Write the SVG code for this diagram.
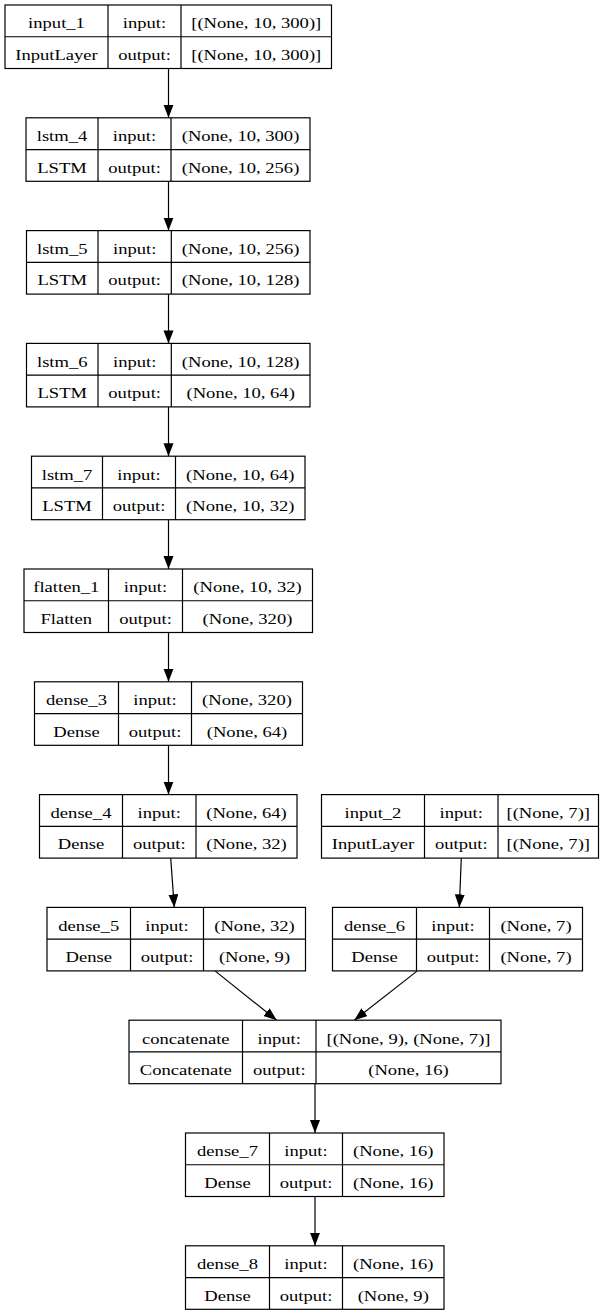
<svg xmlns="http://www.w3.org/2000/svg" width="607" height="1315" viewBox="0 0 607 1315">
<style>
.box{fill:#fff;stroke:#000;stroke-width:1.2}
.ln{fill:none;stroke:#000;stroke-width:1.2}
.t{font-family:"Liberation Serif","Times New Roman",serif;font-size:15px;text-anchor:middle;fill:#000}
.e{fill:none;stroke:#000;stroke-width:1.2;marker-end:url(#ah)}
</style>
<defs>
<marker id="ah" markerUnits="userSpaceOnUse" markerWidth="14" markerHeight="11" refX="13" refY="5" orient="auto">
<path d="M0,0L13,5L0,10z" fill="#000"/>
</marker>
</defs>
<rect width="607" height="1315" fill="#fff"/>
<g id="connectors">
<path class="e" d="M168.5,68.5V117.8"/>
<path class="e" d="M168.5,181.3V230.6"/>
<path class="e" d="M168.5,294.1V343.4"/>
<path class="e" d="M168.5,406.9V456.2"/>
<path class="e" d="M168.5,519.7V569"/>
<path class="e" d="M168.5,632.5V681.8"/>
<path class="e" d="M168.5,745.3V794.6"/>
<path class="e" d="M170.7,858.1L174.3,907.4"/>
<path class="e" d="M461.3,858.1L459.3,907.4"/>
<path class="e" d="M215,970.9L276.7,1020.2"/>
<path class="e" d="M417.3,970.9L354.3,1020.2"/>
<path class="e" d="M315,1083.7V1133"/>
<path class="e" d="M315,1196.5V1245.8"/>
</g>
<g id="input_1">
<rect class="box" x="5" y="5" width="326.5" height="63.5"/>
<path class="ln" d="M108,5V68.5M181,5V68.5M5,36.75H331.5"/>
<text class="t" transform="translate(56.5,28.3) scale(1.24,1)">input_1</text>
<text class="t" transform="translate(56.5,59.8) scale(1.24,1)">InputLayer</text>
<text class="t" transform="translate(144.5,28.3) scale(1.24,1)">input:</text>
<text class="t" transform="translate(144.5,59.8) scale(1.24,1)">output:</text>
<text class="t" transform="translate(256.25,28.3) scale(1.24,1)">[(None, 10, 300)]</text>
<text class="t" transform="translate(256.25,59.8) scale(1.24,1)">[(None, 10, 300)]</text>
</g>
<g id="lstm_4">
<rect class="box" x="26" y="117.8" width="284" height="63.5"/>
<path class="ln" d="M98,117.8V181.3M171,117.8V181.3M26,149.55H310"/>
<text class="t" transform="translate(62,141.1) scale(1.24,1)">lstm_4</text>
<text class="t" transform="translate(62,172.6) scale(1.24,1)">LSTM</text>
<text class="t" transform="translate(134.5,141.1) scale(1.24,1)">input:</text>
<text class="t" transform="translate(134.5,172.6) scale(1.24,1)">output:</text>
<text class="t" transform="translate(240.5,141.1) scale(1.24,1)">(None, 10, 300)</text>
<text class="t" transform="translate(240.5,172.6) scale(1.24,1)">(None, 10, 256)</text>
</g>
<g id="lstm_5">
<rect class="box" x="26.5" y="230.6" width="283.5" height="63.5"/>
<path class="ln" d="M98,230.6V294.1M171.3,230.6V294.1M26.5,262.35H310"/>
<text class="t" transform="translate(62.25,253.9) scale(1.24,1)">lstm_5</text>
<text class="t" transform="translate(62.25,285.4) scale(1.24,1)">LSTM</text>
<text class="t" transform="translate(134.65,253.9) scale(1.24,1)">input:</text>
<text class="t" transform="translate(134.65,285.4) scale(1.24,1)">output:</text>
<text class="t" transform="translate(240.65,253.9) scale(1.24,1)">(None, 10, 256)</text>
<text class="t" transform="translate(240.65,285.4) scale(1.24,1)">(None, 10, 128)</text>
</g>
<g id="lstm_6">
<rect class="box" x="26.5" y="343.4" width="283.5" height="63.5"/>
<path class="ln" d="M98,343.4V406.9M171.3,343.4V406.9M26.5,375.15H310"/>
<text class="t" transform="translate(62.25,366.7) scale(1.24,1)">lstm_6</text>
<text class="t" transform="translate(62.25,398.2) scale(1.24,1)">LSTM</text>
<text class="t" transform="translate(134.65,366.7) scale(1.24,1)">input:</text>
<text class="t" transform="translate(134.65,398.2) scale(1.24,1)">output:</text>
<text class="t" transform="translate(240.65,366.7) scale(1.24,1)">(None, 10, 128)</text>
<text class="t" transform="translate(240.65,398.2) scale(1.24,1)">(None, 10, 64)</text>
</g>
<g id="lstm_7">
<rect class="box" x="31.5" y="456.2" width="273.5" height="63.5"/>
<path class="ln" d="M102.5,456.2V519.7M175.5,456.2V519.7M31.5,487.95H305"/>
<text class="t" transform="translate(67,479.5) scale(1.24,1)">lstm_7</text>
<text class="t" transform="translate(67,511) scale(1.24,1)">LSTM</text>
<text class="t" transform="translate(139,479.5) scale(1.24,1)">input:</text>
<text class="t" transform="translate(139,511) scale(1.24,1)">output:</text>
<text class="t" transform="translate(240.25,479.5) scale(1.24,1)">(None, 10, 64)</text>
<text class="t" transform="translate(240.25,511) scale(1.24,1)">(None, 10, 32)</text>
</g>
<g id="flatten_1">
<rect class="box" x="24" y="569" width="288.5" height="63.5"/>
<path class="ln" d="M108.5,569V632.5M182.5,569V632.5M24,600.75H312.5"/>
<text class="t" transform="translate(66.25,592.3) scale(1.24,1)">flatten_1</text>
<text class="t" transform="translate(66.25,623.8) scale(1.24,1)">Flatten</text>
<text class="t" transform="translate(145.5,592.3) scale(1.24,1)">input:</text>
<text class="t" transform="translate(145.5,623.8) scale(1.24,1)">output:</text>
<text class="t" transform="translate(247.5,592.3) scale(1.24,1)">(None, 10, 32)</text>
<text class="t" transform="translate(247.5,623.8) scale(1.24,1)">(None, 320)</text>
</g>
<g id="dense_3">
<rect class="box" x="34.5" y="681.8" width="268" height="63.5"/>
<path class="ln" d="M118.5,681.8V745.3M191.5,681.8V745.3M34.5,713.55H302.5"/>
<text class="t" transform="translate(76.5,705.1) scale(1.24,1)">dense_3</text>
<text class="t" transform="translate(76.5,736.6) scale(1.24,1)">Dense</text>
<text class="t" transform="translate(155,705.1) scale(1.24,1)">input:</text>
<text class="t" transform="translate(155,736.6) scale(1.24,1)">output:</text>
<text class="t" transform="translate(247,705.1) scale(1.24,1)">(None, 320)</text>
<text class="t" transform="translate(247,736.6) scale(1.24,1)">(None, 64)</text>
</g>
<g id="dense_4">
<rect class="box" x="39.5" y="794.6" width="257.5" height="63.5"/>
<path class="ln" d="M122.5,794.6V858.1M196,794.6V858.1M39.5,826.35H297"/>
<text class="t" transform="translate(81,817.9) scale(1.24,1)">dense_4</text>
<text class="t" transform="translate(81,849.4) scale(1.24,1)">Dense</text>
<text class="t" transform="translate(159.25,817.9) scale(1.24,1)">input:</text>
<text class="t" transform="translate(159.25,849.4) scale(1.24,1)">output:</text>
<text class="t" transform="translate(246.5,817.9) scale(1.24,1)">(None, 64)</text>
<text class="t" transform="translate(246.5,849.4) scale(1.24,1)">(None, 32)</text>
</g>
<g id="input_2">
<rect class="box" x="321.5" y="794.6" width="277" height="63.5"/>
<path class="ln" d="M424.5,794.6V858.1M498,794.6V858.1M321.5,826.35H598.5"/>
<text class="t" transform="translate(373,817.9) scale(1.24,1)">input_2</text>
<text class="t" transform="translate(373,849.4) scale(1.24,1)">InputLayer</text>
<text class="t" transform="translate(461.25,817.9) scale(1.24,1)">input:</text>
<text class="t" transform="translate(461.25,849.4) scale(1.24,1)">output:</text>
<text class="t" transform="translate(548.25,817.9) scale(1.24,1)">[(None, 7)]</text>
<text class="t" transform="translate(548.25,849.4) scale(1.24,1)">[(None, 7)]</text>
</g>
<g id="dense_5">
<rect class="box" x="47" y="907.4" width="258.5" height="63.5"/>
<path class="ln" d="M130.5,907.4V970.9M203.5,907.4V970.9M47,939.15H305.5"/>
<text class="t" transform="translate(88.75,930.7) scale(1.24,1)">dense_5</text>
<text class="t" transform="translate(88.75,962.2) scale(1.24,1)">Dense</text>
<text class="t" transform="translate(167,930.7) scale(1.24,1)">input:</text>
<text class="t" transform="translate(167,962.2) scale(1.24,1)">output:</text>
<text class="t" transform="translate(254.5,930.7) scale(1.24,1)">(None, 32)</text>
<text class="t" transform="translate(254.5,962.2) scale(1.24,1)">(None, 9)</text>
</g>
<g id="dense_6">
<rect class="box" x="332.5" y="907.4" width="250" height="63.5"/>
<path class="ln" d="M416.5,907.4V970.9M489.5,907.4V970.9M332.5,939.15H582.5"/>
<text class="t" transform="translate(374.5,930.7) scale(1.24,1)">dense_6</text>
<text class="t" transform="translate(374.5,962.2) scale(1.24,1)">Dense</text>
<text class="t" transform="translate(453,930.7) scale(1.24,1)">input:</text>
<text class="t" transform="translate(453,962.2) scale(1.24,1)">output:</text>
<text class="t" transform="translate(536,930.7) scale(1.24,1)">(None, 7)</text>
<text class="t" transform="translate(536,962.2) scale(1.24,1)">(None, 7)</text>
</g>
<g id="concatenate">
<rect class="box" x="129" y="1020.2" width="372" height="63.5"/>
<path class="ln" d="M242.5,1020.2V1083.7M316,1020.2V1083.7M129,1051.95H501"/>
<text class="t" transform="translate(185.75,1043.5) scale(1.24,1)">concatenate</text>
<text class="t" transform="translate(185.75,1075) scale(1.24,1)">Concatenate</text>
<text class="t" transform="translate(279.25,1043.5) scale(1.24,1)">input:</text>
<text class="t" transform="translate(279.25,1075) scale(1.24,1)">output:</text>
<text class="t" transform="translate(408.5,1043.5) scale(1.24,1)">[(None, 9), (None, 7)]</text>
<text class="t" transform="translate(408.5,1075) scale(1.24,1)">(None, 16)</text>
</g>
<g id="dense_7">
<rect class="box" x="185.5" y="1133" width="258.5" height="63.5"/>
<path class="ln" d="M269.5,1133V1196.5M342.5,1133V1196.5M185.5,1164.75H444"/>
<text class="t" transform="translate(227.5,1156.3) scale(1.24,1)">dense_7</text>
<text class="t" transform="translate(227.5,1187.8) scale(1.24,1)">Dense</text>
<text class="t" transform="translate(306,1156.3) scale(1.24,1)">input:</text>
<text class="t" transform="translate(306,1187.8) scale(1.24,1)">output:</text>
<text class="t" transform="translate(393.25,1156.3) scale(1.24,1)">(None, 16)</text>
<text class="t" transform="translate(393.25,1187.8) scale(1.24,1)">(None, 16)</text>
</g>
<g id="dense_8">
<rect class="box" x="185.5" y="1245.8" width="258.5" height="63.5"/>
<path class="ln" d="M269.5,1245.8V1309.3M342.5,1245.8V1309.3M185.5,1277.55H444"/>
<text class="t" transform="translate(227.5,1269.1) scale(1.24,1)">dense_8</text>
<text class="t" transform="translate(227.5,1300.6) scale(1.24,1)">Dense</text>
<text class="t" transform="translate(306,1269.1) scale(1.24,1)">input:</text>
<text class="t" transform="translate(306,1300.6) scale(1.24,1)">output:</text>
<text class="t" transform="translate(393.25,1269.1) scale(1.24,1)">(None, 16)</text>
<text class="t" transform="translate(393.25,1300.6) scale(1.24,1)">(None, 9)</text>
</g>
</svg>
